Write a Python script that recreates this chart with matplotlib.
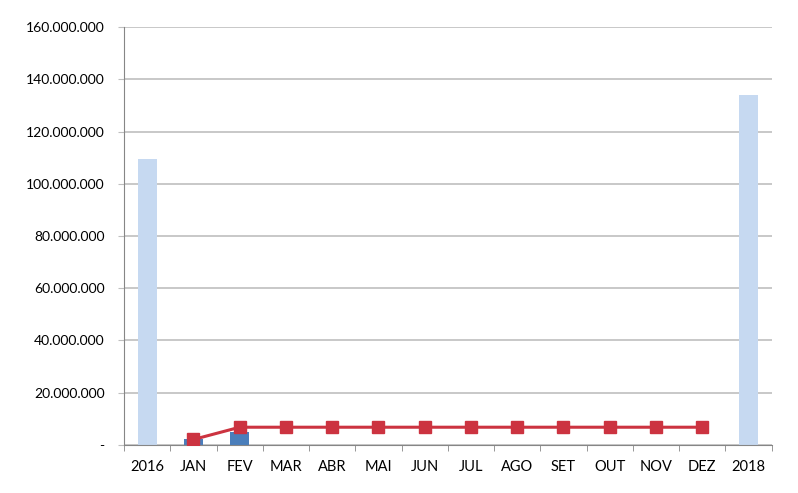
import numpy as np
import matplotlib
matplotlib.use("Agg")
import matplotlib.pyplot as plt
from matplotlib.ticker import FuncFormatter

categories = ["2016", "JAN", "FEV", "MAR", "ABR", "MAI", "JUN", "JUL",
              "AGO", "SET", "OUT", "NOV", "DEZ", "2018"]
# yearly totals (light bars)
year_vals = [109.5e6, 0, 0, 0, 0, 0, 0, 0, 0, 0, 0, 0, 0, 134.0e6]
# monthly values (dark bars)
month_vals = [0, 2.3e6, 5.0e6, 0, 0, 0, 0, 0, 0, 0, 0, 0, 0, 0]
# accumulated line, JAN..DEZ
line_vals = [2.1e6, 6.8e6, 6.8e6, 6.8e6, 6.8e6, 6.8e6, 6.8e6, 6.8e6,
             6.8e6, 6.8e6, 6.8e6, 6.8e6]

plt.rcParams['font.family'] = ['Lato', 'DejaVu Sans']

fig = plt.figure(figsize=(7.98, 4.93), dpi=100)
ax = fig.add_axes([0.1554, 0.0974, 0.8116, 0.8478])

x = np.arange(len(categories))
ax.bar(x, year_vals, width=0.41, color="#c6d9f1", zorder=2)
ax.bar(x, month_vals, width=0.41, color="#4a7ebb", zorder=2)
ax.plot(x[1:13], line_vals, color="#cc3340", lw=2.2, marker="s",
        markersize=8, markerfacecolor="#cc3340", markeredgecolor="#cc3340",
        zorder=3)

ax.set_xlim(-0.5, len(categories) - 0.5)
ax.set_ylim(0, 160e6)
ax.set_yticks(np.arange(0, 160e6 + 1, 20e6))

def fmt(v, pos):
    if v == 0:
        return "-"
    return f"{int(v):,}".replace(",", ".")

ax.yaxis.set_major_formatter(FuncFormatter(fmt))
ax.set_xticks(x)
ax.set_xticklabels(categories)
ax.set_xticks(np.arange(-0.5, len(categories)), minor=True)
ax.tick_params(axis="x", which="major", length=0, pad=11, labelsize=10.5)
ax.tick_params(axis="x", which="minor", length=4, color="#868686")
ax.tick_params(axis="y", length=4, color="#bfbfbf", pad=10, labelsize=10)

ax.grid(axis="y", color="#bfbfbf", lw=1.2, zorder=0)
for s in ["top", "right"]:
    ax.spines[s].set_visible(False)
ax.spines["left"].set_color("#868686")
ax.spines["bottom"].set_color("#868686")

fig.savefig("out.png", dpi=100)
